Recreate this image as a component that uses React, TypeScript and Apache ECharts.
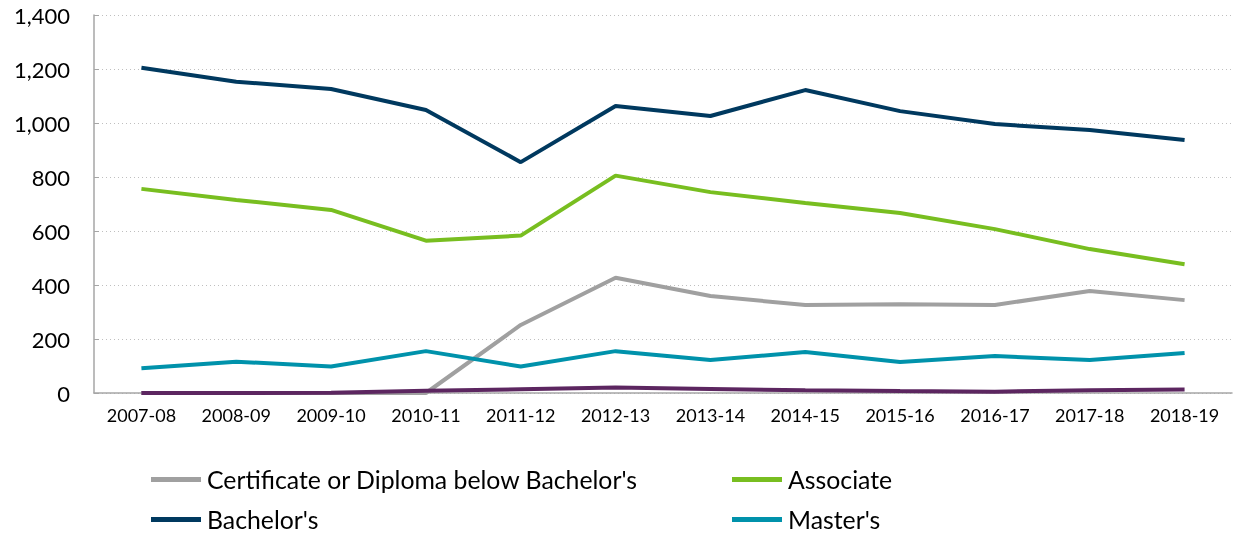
import React, { useEffect, useRef } from "react";
import * as echarts from "echarts";

const categories = ["2007-08", "2008-09", "2009-10", "2010-11", "2011-12", "2012-13", "2013-14", "2014-15", "2015-16", "2016-17", "2017-18", "2018-19"];
const certificate = [0, 0, 0, 0, 252, 427, 359, 326, 329, 326, 378, 344];
const associate = [756, 715, 678, 564, 583, 805, 744, 704, 667, 607, 533, 477];
const bachelors = [1205, 1153, 1126, 1048, 855, 1063, 1026, 1122, 1044, 996, 974, 937];
const masters = [92, 116, 98, 155, 98, 155, 122, 152, 115, 137, 122, 148];
const doctoral = [0, 0, 1, 8, 14, 20, 15, 10, 7, 5, 10, 13];
const yTicks = { min: 0, max: 1400, interval: 200 };

const FONT = "Lato, 'Noto Sans', sans-serif";

export default function App() {
  const ref = useRef<HTMLDivElement>(null);
  useEffect(() => {
    const chart = echarts.init(ref.current!, undefined, { renderer: "svg" });
    const mk = (name: string, data: number[], color: string, z = 2) => ({
      name,
      type: "line",
      data,
      symbol: "none",
      z,
      lineStyle: { color, width: 4 },
      itemStyle: { color },
    });
    const leg = (name: string, left: number, top: number) => ({
      data: [name],
      left,
      top,
      icon: "rect",
      itemWidth: 50,
      itemHeight: 5,
      padding: 0,
      textStyle: { color: "#000", fontSize: 24.8, lineHeight: 24, fontFamily: FONT, padding: [0, 0, 0, 1] },
    });
    chart.setOption({
      animation: false,
      grid: { left: 94, right: 4, top: 15, bottom: 140 },
      xAxis: {
        type: "category",
        data: categories,
        boundaryGap: true,
        axisLine: { lineStyle: { color: "#a6a6a6", width: 1.5 } },
        axisTick: { alignWithLabel: true, length: 4, lineStyle: { color: "#a6a6a6" } },
        axisLabel: { color: "#000", fontSize: 18, fontFamily: FONT, margin: 13 },
      },
      yAxis: {
        type: "value",
        min: yTicks.min,
        max: yTicks.max,
        interval: yTicks.interval,
        axisLine: { show: true, lineStyle: { color: "#a6a6a6", width: 1.5 } },
        axisTick: { show: true, length: 5, inside: true, lineStyle: { color: "#a6a6a6" } },
        axisLabel: {
          color: "#000",
          fontSize: 22,
          fontFamily: FONT,
          margin: 24,
          formatter: (v: number) => v.toLocaleString("en-US"),
        },
        splitLine: { lineStyle: { color: "#bfbfbf", type: [1, 3], width: 1 } },
      },
      legend: [
        leg("Certificate or Diploma below Bachelor's", 151, 467),
        leg("Associate", 732, 467),
        leg("Bachelor's", 151, 507),
        leg("Master's", 732, 507),
      ],
      series: [
        mk("Certificate or Diploma below Bachelor's", certificate, "#a0a0a0", 2),
        mk("Associate", associate, "#78be20", 3),
        mk("Bachelor's", bachelors, "#00395f", 4),
        mk("Master's", masters, "#0092ab", 5),
        mk("Doctoral", doctoral, "#5c2660", 6),
      ],
    });
    return () => chart.dispose();
  }, []);
  return <div ref={ref} style={{ position: "fixed", left: 0, top: 0, width: 1236, height: 533 }} />;
}
